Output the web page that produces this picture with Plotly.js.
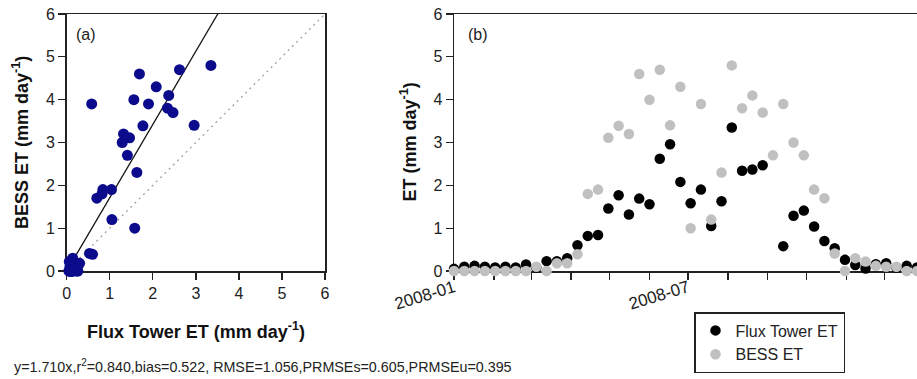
<!DOCTYPE html>
<html>
<head>
<meta charset="utf-8">
<script src="https://cdn.plot.ly/plotly-3.0.1.min.js"></script>
<style>
html,body{margin:0;padding:0;background:#fff;overflow:hidden;}
#chart{width:917px;height:379px;}
</style>
</head>
<body>
<div id="chart"></div>
<script>
// 8-day composite dates (2008)
const dates = [
 '2008-01-01','2008-01-09','2008-01-17','2008-01-25','2008-02-02','2008-02-10','2008-02-18','2008-02-26',
 '2008-03-05','2008-03-13','2008-03-21','2008-03-29','2008-04-06','2008-04-14','2008-04-22','2008-04-30',
 '2008-05-08','2008-05-16','2008-05-24','2008-06-01','2008-06-09','2008-06-17','2008-06-25','2008-07-03',
 '2008-07-11','2008-07-19','2008-07-27','2008-08-04','2008-08-12','2008-08-20','2008-08-28','2008-09-05',
 '2008-09-13','2008-09-21','2008-09-29','2008-10-07','2008-10-15','2008-10-23','2008-10-31','2008-11-08',
 '2008-11-16','2008-11-24','2008-12-02','2008-12-10','2008-12-18','2008-12-26'
];
// Flux tower ET (mm/day)
const fluxET = [
 0.05,0.10,0.12,0.10,0.08,0.10,0.08,0.15,
 0.08,0.23,0.23,0.30,0.60,0.82,0.84,1.46,
 1.77,1.32,1.69,1.56,2.62,2.96,2.08,1.58,
 1.90,1.05,1.63,3.35,2.34,2.37,2.47,null,
 0.58,1.29,1.41,1.04,0.70,0.53,0.26,0.14,
 0.06,0.16,0.18,0.08,0.12,0.08
];
// BESS ET (mm/day)
const bessET = [
 0.00,0.00,0.00,0.00,0.00,0.00,0.00,0.00,
 0.10,0.00,0.18,0.18,0.39,1.80,1.90,3.11,
 3.39,3.20,4.60,4.00,4.70,3.40,4.30,1.00,
 3.90,1.20,2.30,4.80,3.80,4.10,3.70,2.70,
 3.90,3.00,2.70,1.90,1.70,0.41,0.00,0.30,
 0.22,0.12,0.10,0.10,0.00,0.00
];
const slope = 1.710;
const axisTicks = [0,1,2,3,4,5,6];
const statsText = 'y=1.710x,r<sup>2</sup>=0.840,bias=0.522, RMSE=1.056,PRMSEs=0.605,PRMSEu=0.395';

// scatter pairs built from the series
const sx = [], sy = [];
for (let i = 0; i < dates.length; i++) {
  if (fluxET[i] !== null && bessET[i] !== null) { sx.push(fluxET[i]); sy.push(bessET[i]); }
}
const maxV = axisTicks[axisTicks.length-1];

const W = 917, H = 379;
const px = v => v / W;
const py = v => (H - v) / H;

const FONT = 'Liberation Sans, Arial, sans-serif';
const axCol = '#222';

const traces = [
  {x:[0,maxV], y:[0,maxV], xaxis:'x', yaxis:'y', mode:'lines', showlegend:false,
   line:{color:'#9a9a9a', width:1.2, dash:'2px,4px'}, hoverinfo:'skip'},
  {x:[0,maxV/slope], y:[0,maxV], xaxis:'x', yaxis:'y', mode:'lines', showlegend:false,
   line:{color:'#111', width:1.3}, hoverinfo:'skip'},
  {x:sx, y:sy, xaxis:'x', yaxis:'y', mode:'markers', showlegend:false, cliponaxis:false,
   marker:{color:'#0b0b8c', size:11}},
  {x:dates, y:fluxET, xaxis:'x2', yaxis:'y2', mode:'markers', name:'Flux Tower ET', cliponaxis:false,
   marker:{color:'#000000', size:10.5}},
  {x:dates, y:bessET, xaxis:'x2', yaxis:'y2', mode:'markers', name:'BESS ET', cliponaxis:false,
   marker:{color:'#c0c0c0', size:10.5}}
];

const common = {showgrid:false, zeroline:false, showline:true, linecolor:axCol, linewidth:1.5,
  ticks:'outside', ticklen:7, tickwidth:1.3, tickcolor:axCol, layer:'below traces',
  tickfont:{family:FONT, size:16, color:'#222'}, fixedrange:true};

const layout = {
  width:W, height:H, margin:{l:0,r:0,t:0,b:0},
  paper_bgcolor:'#fff', plot_bgcolor:'#fff',
  font:{family:FONT, color:'#222'},
  xaxis: Object.assign({}, common, {domain:[px(66.7), px(325)], range:[0,maxV], tickvals:axisTicks, mirror:true, anchor:'y'}),
  yaxis: Object.assign({}, common, {domain:[py(271), py(14)], range:[0,maxV], tickvals:axisTicks, mirror:true, anchor:'x'}),
  xaxis2: Object.assign({}, common, {domain:[px(454), 1], type:'date', range:['2008-01-01','2008-12-26'],
     tick0:'2008-01-01', dtick:'M6', tickformat:'%Y-%m', tickangle:-17, ticklabelstandoff:-8, mirror:true, anchor:'y2',
     tickfont:{family:FONT, size:17, color:'#222'},
     minor:{dtick:'M1', ticklen:7, tickwidth:1.3, tickcolor:axCol, ticks:'outside', showgrid:false}}),
  yaxis2: Object.assign({}, common, {domain:[py(271), py(14)], range:[0,maxV], tickvals:axisTicks, mirror:false, anchor:'x2'}),
  showlegend:true,
  legend:{x:px(694), y:py(312), xanchor:'left', yanchor:'top', bordercolor:axCol, borderwidth:1.5,
     bgcolor:'#fff', font:{family:FONT, size:16, color:'#222'}, tracegroupgap:0},
  annotations:[
    {text:'(a)', xref:'paper', yref:'paper', x:px(74), y:py(34.5), xanchor:'left', yanchor:'middle', showarrow:false,
     font:{family:FONT, size:16, color:'#222'}},
    {text:'(b)', xref:'paper', yref:'paper', x:px(466), y:py(34.5), xanchor:'left', yanchor:'middle', showarrow:false,
     font:{family:FONT, size:16, color:'#222'}},
    {text:'<b>Flux Tower ET (mm day<sup>-1</sup>)</b>', xref:'paper', yref:'paper', x:px(196), y:py(330), xanchor:'center', yanchor:'middle', showarrow:false,
     font:{family:FONT, size:18, color:'#111'}},
    {text:'<b>BESS ET (mm day<sup>-1</sup>)</b>', xref:'paper', yref:'paper', x:px(20.5), y:py(142.5), xanchor:'center', yanchor:'middle', showarrow:false, textangle:-90,
     font:{family:FONT, size:18, color:'#111'}},
    {text:'<b>ET (mm day<sup>-1</sup>)</b>', xref:'paper', yref:'paper', x:px(409), y:py(142.5), xanchor:'center', yanchor:'middle', showarrow:false, textangle:-90,
     font:{family:FONT, size:18, color:'#111'}},
    {text:statsText, xref:'paper', yref:'paper', x:px(12), y:py(366), xanchor:'left', yanchor:'middle', showarrow:false,
     font:{family:FONT, size:14.3, color:'#222'}}
  ]
};

Plotly.newPlot('chart', traces, layout, {displayModeBar:false, staticPlot:true});
</script>
</body>
</html>
